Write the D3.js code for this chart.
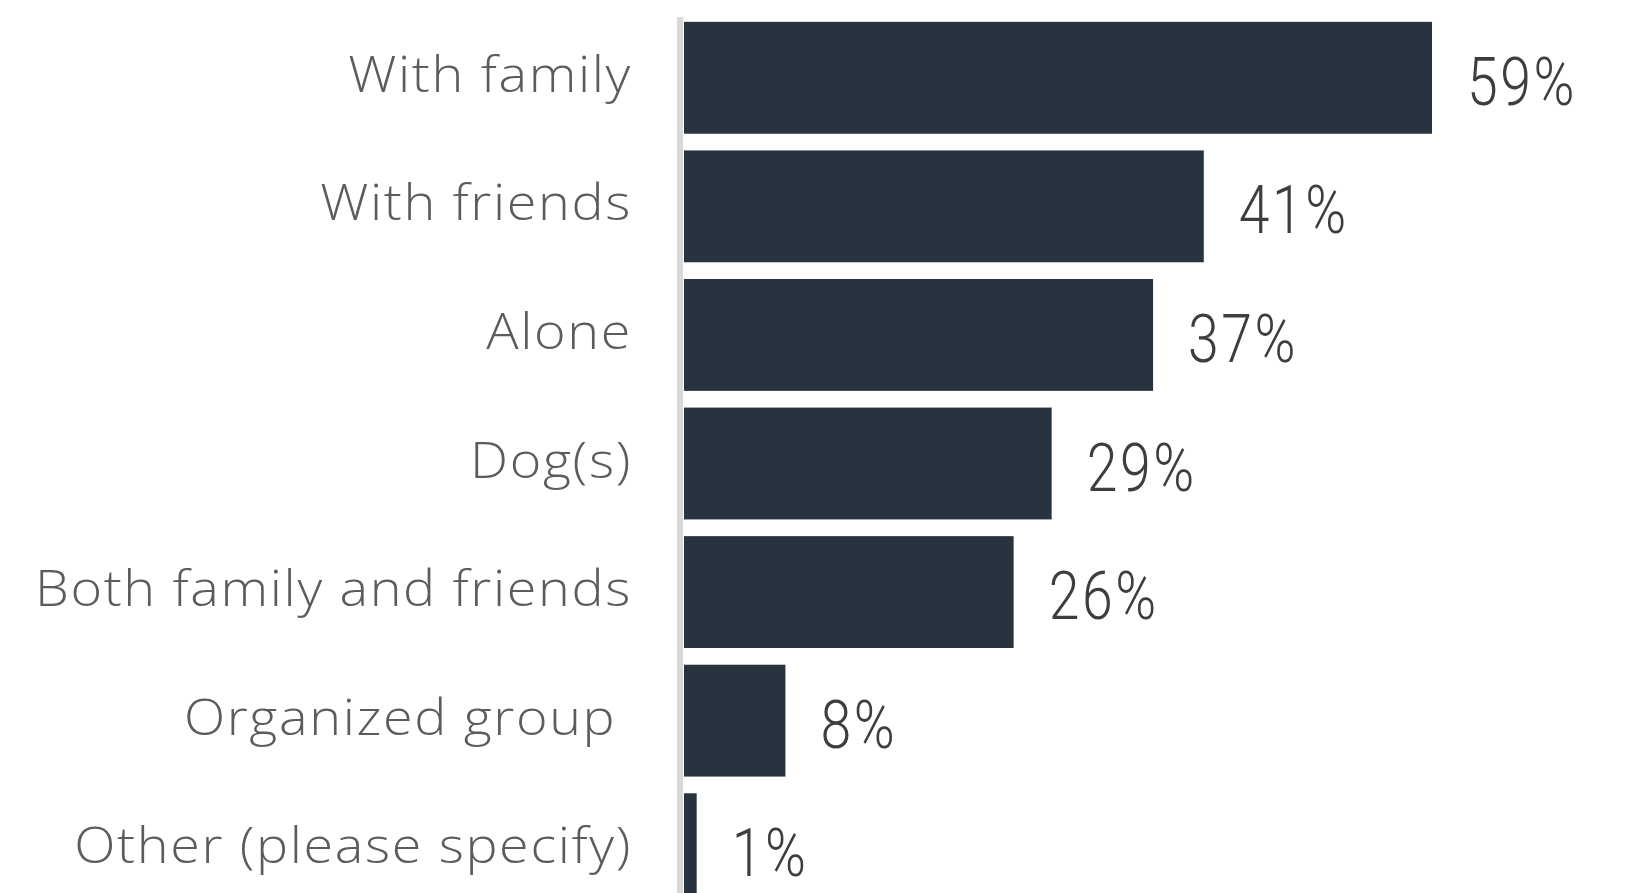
<!DOCTYPE html>
<html>
<head>
<meta charset="utf-8">
<script src="https://cdn.jsdelivr.net/npm/d3@7"></script>
<style>
  html, body { margin: 0; padding: 0; background: #ffffff; }
  svg { display: block; }
</style>
</head>
<body>
<svg id="chart" width="1631" height="893"></svg>
<script>
// Who people go out with — share of respondents
const categories = [
  "With family",
  "With friends",
  "Alone",
  "Dog(s)",
  "Both family and friends",
  "Organized group ",
  "Other (please specify)"
];
const values = [59, 41, 37, 29, 26, 8, 1];
const valueLabels = ["59%", "41%", "37%", "29%", "26%", "8%", "1%"];

const data = categories.map((c, i) => ({ category: c, value: values[i], label: valueLabels[i] }));

const W = 1631, H = 893;
const barColor = "#27343f";
const catColor = "#5c5c5c";
const valColor = "#3e3e3e";

const svg = d3.select("#chart");
svg.append("rect").attr("width", W).attr("height", H).attr("fill", "#ffffff");

const x = d3.scaleLinear().domain([0, 59]).range([684, 1432]);
const y = d3.scaleBand()
  .domain(categories)
  .range([13.5, 913.5])
  .paddingInner(0.13)
  .paddingOuter(0.065);

// vertical baseline on the left of the bars
svg.append("rect")
  .attr("x", 677).attr("y", 17)
  .attr("width", 6).attr("height", H - 17)
  .attr("fill", "#d9d9d9");

svg.append("g").selectAll("rect")
  .data(data)
  .join("rect")
  .attr("x", x(0))
  .attr("y", d => y(d.category))
  .attr("width", d => x(d.value) - x(0))
  .attr("height", y.bandwidth())
  .attr("fill", barColor);

// category labels, slightly widened
svg.append("g").selectAll("text")
  .data(data)
  .join("text")
  .attr("xml:space", "preserve")
  .attr("transform", d => `translate(632,${y(d.category) + y.bandwidth() / 2 + 14}) scale(1.1,1)`)
  .attr("text-anchor", "end")
  .attr("font-family", "'Open Sans', 'Noto Sans', sans-serif")
  .attr("font-weight", 300)
  .attr("font-size", 49)
  .attr("letter-spacing", 1.5)
  .attr("fill", catColor)
  .text(d => d.category);

// value labels, set in a horizontally condensed light face
svg.append("g").selectAll("text")
  .data(data)
  .join("text")
  .attr("transform", d => `translate(${x(d.value) + 35},${y(d.category) + y.bandwidth() / 2 + 27}) scale(0.84,1)`)
  .attr("font-family", "Roboto, 'Open Sans', sans-serif")
  .attr("font-weight", 300)
  .attr("font-size", 66)
  .attr("letter-spacing", 3)
  .attr("fill", valColor)
  .text(d => d.label);
</script>
</body>
</html>
